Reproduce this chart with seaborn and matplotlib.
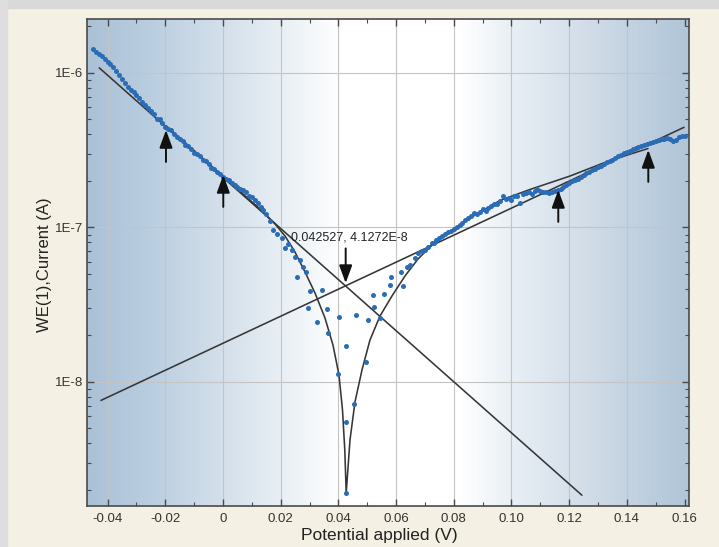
import numpy as np
import pandas as pd
import matplotlib
matplotlib.use("Agg")
import matplotlib.pyplot as plt
import seaborn as sns
from matplotlib.colors import LinearSegmentedColormap
from matplotlib.patches import Rectangle
from matplotlib.ticker import FixedLocator, MultipleLocator, LogLocator, NullFormatter

# ---------------- data ----------------
# measured points: potential in mV, log10 of current in A
meas_E_mV = [
    -45, -44, -43, -42, -41, -40, -39, -38, -37, -36, -35, -34, -33, -32, -31, -30,
    -29, -28, -27, -26, -25, -24, -23, -22, -21, -20, -19, -18, -17, -16, -15, -14,
    -13, -12, -11, -10, -9, -8, -7, -6, -5, -4, -3, -2, -1, 0, 1, 2, 3, 4, 5, 6, 7,
    8, 9, 10, 11, 12, 13, 14, 15,
    16.3, 17.4, 18.6, 20.3, 21.5, 22.6, 23.8, 25.0, 25.5, 26.7, 27.8, 28.8, 29.6,
    30.2, 32.5, 34.2, 35.9, 36.3, 40.0, 40.3, 42.5, 42.6, 42.8, 45.5, 46.1, 49.5,
    50.4, 51.9, 52.3, 54.4, 55.8, 57.9, 58.1, 61.6, 62.3, 63.9, 64.8, 66.6, 67.7,
    68.9, 70.0, 71.2, 72.3,
    73, 74, 75, 76, 77, 78, 79, 80, 81, 82, 83, 84, 85, 86, 87, 88, 89, 90, 91, 92,
    93, 94, 95, 96, 97, 98, 99, 100, 101, 102, 103, 104, 105, 106, 107, 108, 109,
    110, 111, 112, 113, 114, 115, 116, 117, 118, 119, 120, 121, 122, 123, 124, 125,
    126, 127, 128, 129, 130, 131, 132, 133, 134, 135, 136, 137, 138, 139, 140, 141,
    142, 143, 144, 145, 146, 147, 148, 149, 150, 151, 152, 153, 154, 155, 156, 157,
    158, 159, 160,
]
meas_logI = [
    -5.845, -5.861, -5.874, -5.893, -5.911, -5.927, -5.945, -5.964, -5.987, -6.013,
    -6.039, -6.065, -6.093, -6.110, -6.126, -6.142, -6.162, -6.185, -6.205, -6.225,
    -6.245, -6.268, -6.300, -6.300, -6.325, -6.348, -6.360, -6.372, -6.392, -6.415,
    -6.425, -6.440, -6.466, -6.472, -6.490, -6.515, -6.522, -6.540, -6.562, -6.570,
    -6.590, -6.612, -6.620, -6.640, -6.655, -6.670, -6.684, -6.695, -6.712, -6.722,
    -6.740, -6.750, -6.760, -6.772, -6.795, -6.805, -6.825, -6.843, -6.865, -6.887,
    -6.915,
    -6.960, -7.016, -7.040, -7.070, -7.135, -7.110, -7.146, -7.189, -7.322, -7.210,
    -7.254, -7.290, -7.523, -7.409, -7.610, -7.405, -7.529, -7.685, -7.950, -7.581,
    -7.765, -8.257, -8.720, -8.142, -7.566, -7.869, -7.599, -7.437, -7.517, -7.588,
    -7.430, -7.372, -7.318, -7.286, -7.379, -7.254, -7.243, -7.199, -7.167, -7.150,
    -7.146, -7.124, -7.102,
    -7.100, -7.084, -7.068, -7.055, -7.042, -7.032, -7.023, -7.013, -6.997, -6.984,
    -6.968, -6.951, -6.939, -6.926, -6.906, -6.913, -6.900, -6.883, -6.893, -6.871,
    -6.861, -6.848, -6.845, -6.828, -6.796, -6.816, -6.809, -6.819, -6.799, -6.793,
    -6.841, -6.783, -6.780, -6.770, -6.783, -6.764, -6.751, -6.767, -6.773, -6.770,
    -6.777, -6.773, -6.764, -6.757, -6.748, -6.738, -6.725, -6.712, -6.702, -6.693,
    -6.683, -6.670, -6.660, -6.650, -6.641, -6.631, -6.621, -6.608, -6.599, -6.589,
    -6.579, -6.570, -6.560, -6.550, -6.540, -6.531, -6.521, -6.511, -6.502, -6.495,
    -6.485, -6.479, -6.472, -6.466, -6.460, -6.450, -6.447, -6.440, -6.434, -6.430,
    -6.427, -6.424, -6.430, -6.443, -6.434, -6.414, -6.411, -6.405,
]

# fitted curve (V, log10 A)
fit_E = [-0.01976, 0.0, 0.012825, 0.018024, 0.02149, 0.024957, 0.028423, 0.031889,
         0.035355, 0.038128, 0.040208, 0.041421, 0.042218, 0.042704, 0.043155,
         0.044021, 0.045754, 0.04818, 0.050953, 0.054419, 0.058579, 0.063085,
         0.067591, 0.07279, 0.078683, 0.085615, 0.096014, 0.106412, 0.120277,
         0.134142, 0.147314]
fit_logI = [-6.341, -6.668, -6.880, -6.977, -7.055, -7.159, -7.288, -7.424, -7.586,
            -7.761, -7.955, -8.181, -8.440, -8.718, -8.602, -8.375, -8.129, -7.922,
            -7.728, -7.573, -7.443, -7.314, -7.204, -7.107, -7.026, -6.939, -6.825,
            -6.754, -6.667, -6.566, -6.489]

# Tafel lines (end points)
cath_E = [-0.0429, 0.1244]
cath_logI = [-5.9666, -8.7328]
anod_E = [-0.0423, 0.1598]
anod_logI = [-8.1192, -6.3516]

# marker arrows (tip positions)
arrow_E = [-0.01976, 0.0001, 0.11622, 0.14742]
arrow_logI = [-6.369, -6.660, -6.757, -6.498]

# corrosion point annotation
corr_E = 0.042527
corr_logI = -7.36
corr_text = "0.042527, 4.1272E-8"
corr_text_E = 0.02357
corr_text_logI = -7.068

x_ticks = [-0.04, -0.02, 0.0, 0.02, 0.04, 0.06, 0.08, 0.10, 0.12, 0.14, 0.16]
x_tick_labels = ["-0.04", "-0.02", "0", "0.02", "0.04", "0.06", "0.08", "0.10",
                 "0.12", "0.14", "0.16"]
y_ticks = [1e-8, 1e-7, 1e-6]
y_tick_labels = ["1E-8", "1E-7", "1E-6"]

# ---------------- figure ----------------
sns.set_theme(style="ticks")
plt.rcParams["font.family"] = ["Liberation Sans", "DejaVu Sans"]

W, H = 719, 547
fig = plt.figure(figsize=(W / 100, H / 100), dpi=100, facecolor="#f4f1e4")
fig.patches.append(Rectangle((0, 1 - 8 / H), 1, 8 / H, transform=fig.transFigure,
                             color="#d9d9d9", zorder=0))
fig.patches.append(Rectangle((0, 0), 7 / W, 1, transform=fig.transFigure,
                             color="#dedede", zorder=0))

pos = [87 / W, 1 - 506 / H, 602 / W, 487 / H]

# background gradient
bg = fig.add_axes(pos, zorder=0)
stops = [(0.0, "#abc1d6"), (0.1, "#b9cde0"), (0.22, "#d3dfea"), (0.33, "#eaf0f5"),
         (0.42, "#ffffff"), (0.62, "#ffffff"), (0.72, "#e6edf4"), (0.85, "#cedae6"),
         (1.0, "#b0c5d8")]
cmap = LinearSegmentedColormap.from_list("bg", stops)
bg.imshow(np.linspace(0, 1, 600).reshape(1, -1), cmap=cmap, aspect="auto",
          extent=[0, 1, 0, 1])
bg.set_axis_off()

ax = fig.add_axes(pos, zorder=1)
ax.set_facecolor("none")
ax.set_yscale("log")

meas = pd.DataFrame({"E": np.array(meas_E_mV) / 1000.0,
                     "I": 10.0 ** np.array(meas_logI)})
line_kw = dict(ax=ax, color="#363636", linewidth=1.15, sort=False, estimator=None,
               legend=False)
sns.lineplot(x=cath_E, y=10.0 ** np.array(cath_logI), zorder=3, **line_kw)
sns.lineplot(x=anod_E, y=10.0 ** np.array(anod_logI), zorder=3, **line_kw)
sns.lineplot(x=fit_E, y=10.0 ** np.array(fit_logI), zorder=3, **line_kw)
sns.scatterplot(data=meas, x="E", y="I", ax=ax, color="#2a6db6", s=13,
                linewidth=0, zorder=4, legend=False)

arrowprops = dict(arrowstyle="-|>,head_length=0.9,head_width=0.33", color="#111111",
                  lw=1.4, shrinkA=0, shrinkB=0)
for e, li in zip(arrow_E, arrow_logI):
    ax.annotate("", xy=(e, 10.0 ** li), xytext=(0, -23), textcoords="offset points",
                arrowprops=arrowprops, zorder=5)
ax.annotate("", xy=(corr_E, 10.0 ** corr_logI), xytext=(0, 25),
            textcoords="offset points", arrowprops=arrowprops, zorder=5)
ax.text(corr_text_E, 10.0 ** corr_text_logI, corr_text, fontsize=9, ha="left",
        va="center", color="#222222", zorder=6)

ax.set_xlim(-0.04714, 0.16153)
ax.set_ylim(1.575e-9, 2.236e-6)
ax.xaxis.set_major_locator(FixedLocator(x_ticks))
ax.set_xticklabels(x_tick_labels)
ax.xaxis.set_minor_locator(MultipleLocator(0.01))
ax.yaxis.set_major_locator(FixedLocator(y_ticks))
ax.set_yticklabels(y_tick_labels)
ax.yaxis.set_minor_locator(LogLocator(base=10, subs=np.arange(2, 10) * 1.0, numticks=30))
ax.yaxis.set_minor_formatter(NullFormatter())

ax.grid(True, which="major", color="#c4c4c4", linewidth=0.8)
ax.grid(False, which="minor")
ax.tick_params(which="both", direction="in", top=True, right=True, color="#4a4a4a")
ax.tick_params(which="major", length=5, width=1.0, labelsize=9.5, labelcolor="#333333")
ax.tick_params(which="minor", length=3, width=0.8)
ax.tick_params(axis="x", which="major", pad=5)
ax.tick_params(axis="y", which="major", pad=3)
for sp in ax.spines.values():
    sp.set_color("#4a4a4a")
    sp.set_linewidth(1.2)

ax.set_xlabel("Potential applied (V)", fontsize=12.5, color="#222222")
ax.set_ylabel("WE(1),Current (A)", fontsize=12, color="#222222")
ax.xaxis.set_label_coords(0.486, -0.045)
ax.yaxis.set_label_coords(-0.058, 0.495)

fig.savefig("out.png", dpi=100, facecolor=fig.get_facecolor())
